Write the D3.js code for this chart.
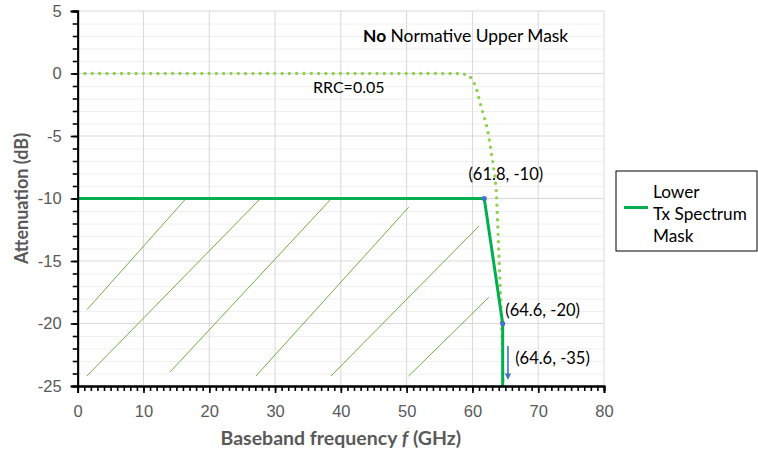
<!DOCTYPE html>
<html>
<head>
<meta charset="utf-8">
<script src="https://cdn.jsdelivr.net/npm/d3@7"></script>
<style>
  body { margin: 0; background: #fff; }
  svg { display: block; font-family: Lato, "Open Sans", sans-serif; }
</style>
</head>
<body>
<div id="chart"></div>
<script>
// Chart values
var xTicks = [0, 10, 20, 30, 40, 50, 60, 70, 80];
var yTicks = [5, 0, -5, -10, -15, -20, -25];

// Lower Tx spectrum mask
var maskFreq = [0, 61.8, 64.6, 64.6];
var maskAtten = [-10, -10, -20, -35];

// Corner points with markers
var cornerFreq = [61.8, 64.6];
var cornerAtten = [-10, -20];

// RRC (roll-off 0.05) curve, dotted
var rrcFreq = [0, 58.3, 59.5, 60.1, 60.5, 60.8, 61.1, 61.4, 61.75, 62.0, 62.3, 62.5, 62.7, 62.85, 63.05, 63.2, 63.4, 63.5, 63.6, 63.65, 63.8, 63.95, 64.1, 64.25, 64.4, 64.55, 64.65];
var rrcAtten = [0, 0, -0.15, -0.6, -1.0, -1.6, -2.2, -2.8, -3.35, -3.9, -4.5, -5.1, -5.7, -6.3, -6.9, -7.5, -8.1, -8.7, -9.2, -9.7, -11.5, -13.5, -15.5, -17.5, -19.5, -22, -25];

// Hatch lines below the mask (start and end points)
var hatchFrom = [[1.4, -18.9], [1.4, -24.2], [14.0, -23.9], [27.1, -24.2], [38.5, -24.2], [50.3, -24.2]];
var hatchTo = [[16.3, -10.1], [27.6, -10.1], [38.4, -10.1], [50.3, -10.7], [61.0, -12.2], [62.5, -17.9]];

// Annotations
var labelText = ['(61.8, -10)', '(64.6, -20)', '(64.6, -35)'];
var labelFreq = [59.4, 65.0, 66.5];
var labelAtten = [-8.5, -19.4, -23.2];

var width = 758, height = 452;
var margin = { left: 77.7, right: 154, top: 11, bottom: 66 };

var x = d3.scaleLinear().domain([0, 80]).range([margin.left, width - margin.right]);
var y = d3.scaleLinear().domain([-25, 5]).range([height - margin.bottom, margin.top]);

var svg = d3.select('#chart').append('svg')
  .attr('width', width)
  .attr('height', height);

svg.append('defs').append('clipPath')
  .attr('id', 'plotClip')
  .append('rect')
  .attr('x', x(0))
  .attr('y', y(5))
  .attr('width', x(80) - x(0))
  .attr('height', y(-25) - y(5));

svg.select('defs').append('marker')
  .attr('id', 'arrow')
  .attr('viewBox', '0 0 10 10')
  .attr('refX', 8).attr('refY', 5)
  .attr('markerWidth', 4).attr('markerHeight', 4)
  .attr('orient', 'auto')
  .append('path')
  .attr('d', 'M0,0L10,5L0,10z')
  .attr('fill', '#4472C4');

// Minor gridlines every 1 dB
var grid = svg.append('g');
grid.selectAll('line.minor')
  .data(d3.range(-24, 5).filter(function(d) { return d % 5 !== 0; }))
  .enter().append('line')
  .attr('class', 'minor')
  .attr('x1', x(0)).attr('x2', x(80))
  .attr('y1', function(d) { return y(d) + 0.5; })
  .attr('y2', function(d) { return y(d) + 0.5; })
  .style('stroke', '#f0f0f0');

// Major gridlines
grid.selectAll('line.hmajor')
  .data(yTicks.filter(function(d) { return d !== -25; }))
  .enter().append('line')
  .attr('class', 'hmajor')
  .attr('x1', x(0)).attr('x2', x(80))
  .attr('y1', function(d) { return y(d); })
  .attr('y2', function(d) { return y(d); })
  .style('stroke', '#d9d9d9');

grid.selectAll('line.vmajor')
  .data(xTicks.filter(function(d) { return d !== 0; }))
  .enter().append('line')
  .attr('class', 'vmajor')
  .attr('x1', function(d) { return x(d); })
  .attr('x2', function(d) { return x(d); })
  .attr('y1', y(5)).attr('y2', y(-25))
  .style('stroke', '#d9d9d9');

var plot = svg.append('g').attr('clip-path', 'url(#plotClip)');

// Hatch lines
plot.selectAll('line.hatch')
  .data(d3.range(hatchFrom.length))
  .enter().append('line')
  .attr('class', 'hatch')
  .attr('x1', function(i) { return x(hatchFrom[i][0]); })
  .attr('y1', function(i) { return y(hatchFrom[i][1]); })
  .attr('x2', function(i) { return x(hatchTo[i][0]); })
  .attr('y2', function(i) { return y(hatchTo[i][1]); })
  .style('stroke', '#70AD47')
  .style('stroke-width', 1);

// RRC dotted curve
var rrcLine = d3.line()
  .x(function(i) { return x(rrcFreq[i]); })
  .y(function(i) { return y(rrcAtten[i]); });

plot.append('path')
  .attr('d', rrcLine(d3.range(rrcFreq.length)))
  .style('fill', 'none')
  .style('stroke', '#92D050')
  .style('stroke-width', 3.4)
  .style('stroke-linecap', 'round')
  .style('stroke-dasharray', '0 7.3');

// Mask line
var maskLine = d3.line()
  .x(function(i) { return x(maskFreq[i]); })
  .y(function(i) { return y(maskAtten[i]); });

plot.append('path')
  .attr('d', maskLine(d3.range(maskFreq.length)))
  .style('fill', 'none')
  .style('stroke', '#00B050')
  .style('stroke-width', 3)
  .style('stroke-linejoin', 'round');

plot.selectAll('circle.corner')
  .data(d3.range(cornerFreq.length))
  .enter().append('circle')
  .attr('class', 'corner')
  .attr('cx', function(i) { return x(cornerFreq[i]); })
  .attr('cy', function(i) { return y(cornerAtten[i]); })
  .attr('r', 2.6)
  .style('fill', '#4472C4');

// Arrow pointing down to -35
svg.append('line')
  .attr('x1', x(65.4)).attr('x2', x(65.4))
  .attr('y1', y(-21.8)).attr('y2', y(-24.4))
  .style('stroke', '#4472C4')
  .style('stroke-width', 1.6)
  .attr('marker-end', 'url(#arrow)');

// Axes
var yAxis = d3.axisLeft(y).tickValues(yTicks).tickSize(7).tickFormat(function(d) { return String(d); });
var xAxis = d3.axisBottom(x).tickValues(xTicks).tickSize(7);

var yMinor = d3.axisLeft(y).tickValues(d3.range(-25, 6)).tickSize(5).tickFormat('');
var xMinor = d3.axisBottom(x).tickValues(d3.range(0, 81)).tickSize(5).tickFormat('');

function styleAxis(g) {
  g.select('.domain').style('stroke', '#000').style('stroke-width', 1.8);
  g.selectAll('.tick line').style('stroke', '#000').style('stroke-width', 1.6);
  g.selectAll('.tick text').style('fill', '#595959').style('font-size', '16.5px');
}

svg.append('g').attr('transform', 'translate(' + x(0) + ',0)').call(yMinor).call(styleAxis);
svg.append('g').attr('transform', 'translate(' + x(0) + ',0)').call(yAxis).call(styleAxis)
  .selectAll('.tick text').attr('x', -16);
svg.append('g').attr('transform', 'translate(0,' + y(-25) + ')').call(xMinor).call(styleAxis);
svg.append('g').attr('transform', 'translate(0,' + y(-25) + ')').call(xAxis).call(styleAxis)
  .selectAll('.tick text').attr('y', 19);

// Axis titles
svg.append('text')
  .attr('transform', 'translate(28,' + y(-10) + ')rotate(-90)')
  .attr('text-anchor', 'middle')
  .style('font-size', '18px')
  .style('font-weight', 'bold')
  .style('fill', '#595959')
  .text('Attenuation (dB)');

var xTitle = svg.append('text')
  .attr('x', (x(0) + x(80)) / 2)
  .attr('y', 445)
  .attr('text-anchor', 'middle')
  .style('font-size', '19.5px')
  .style('font-weight', 'bold')
  .style('fill', '#595959');
xTitle.append('tspan').text('Baseband frequency ');
xTitle.append('tspan').style('font-style', 'italic').text('f');
xTitle.append('tspan').text(' (GHz)');

// Text annotations
var title = svg.append('text')
  .attr('x', 363)
  .attr('y', 42)
  .style('font-size', '17.4px')
  .style('fill', '#000');
title.append('tspan').style('font-weight', 'bold').text('No');
title.append('tspan').text(' Normative Upper Mask');

svg.append('text')
  .attr('x', 313)
  .attr('y', 93)
  .style('font-size', '16px')
  .text('RRC=0.05');

svg.selectAll('text.point')
  .data(d3.range(labelText.length))
  .enter().append('text')
  .attr('class', 'point')
  .attr('x', function(i) { return x(labelFreq[i]); })
  .attr('y', function(i) { return y(labelAtten[i]); })
  .style('font-size', '16.5px')
  .text(function(i) { return labelText[i]; });

// Legend
var legend = svg.append('g');
legend.append('rect')
  .attr('x', 616).attr('y', 171)
  .attr('width', 141).attr('height', 80)
  .style('fill', '#fff')
  .style('stroke', '#000')
  .style('stroke-width', 1);
legend.append('line')
  .attr('x1', 624).attr('x2', 648)
  .attr('y1', 207.5).attr('y2', 207.5)
  .style('stroke', '#00B050')
  .style('stroke-width', 3);
legend.selectAll('text')
  .data(['Lower', 'Tx Spectrum', 'Mask'])
  .enter().append('text')
  .attr('x', 653)
  .attr('y', function(d, i) { return 197.5 + i * 22.2; })
  .style('font-size', '17.2px')
  .text(function(d) { return d; });
</script>
</body>
</html>
